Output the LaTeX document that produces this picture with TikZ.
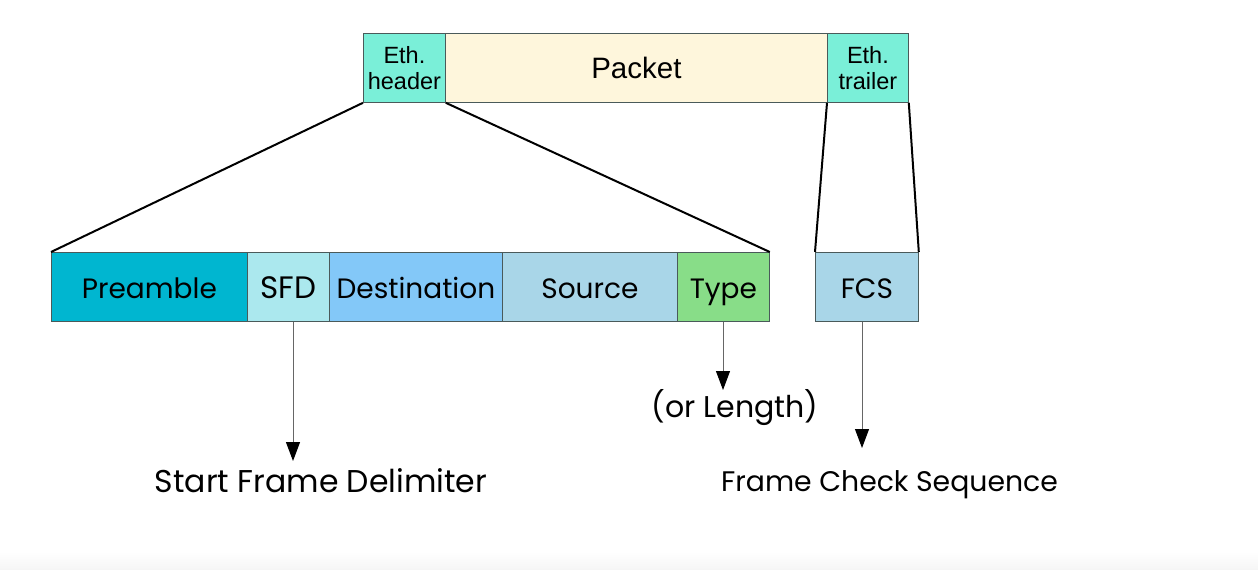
\documentclass[tikz,border=0pt]{standalone}
\usepackage{fontspec}
\setmainfont{Liberation Sans}
\newfontfamily\handfont{Poppins}
\usetikzlibrary{arrows.meta}
\definecolor{ethcol}{HTML}{7AEFD8}
\definecolor{pktcol}{HTML}{FEF6DC}
\definecolor{precol}{HTML}{00B6D0}
\definecolor{sfdcol}{HTML}{ABE8EE}
\definecolor{dstcol}{HTML}{83C8F8}
\definecolor{srccol}{HTML}{A9D6E8}
\definecolor{typcol}{HTML}{88DD88}
\definecolor{edgecol}{HTML}{4A5A5A}
\newcommand{\handsz}[1]{\handfont\fontsize{#1}{#1}\selectfont}
\tikzset{
  topcell/.style={draw=edgecol, line width=0.8pt, minimum height=69pt, inner sep=0pt,
    anchor=north west, align=center, font=\fontsize{23.5}{26}\selectfont},
  field/.style={draw=edgecol, line width=0.8pt, minimum height=69pt, inner sep=0pt,
    text height=26pt, text depth=3pt,
    anchor=north west, font=\handsz{28}},
  fan/.style={black, line width=2pt},
  pointer/.style={draw=gray!80!black, line width=1pt,
    -{Triangle[length=19pt,width=14pt,color=black,fill=black]}},
  caption/.style={inner sep=0pt}
}
\begin{document}
\begin{tikzpicture}[x=1pt,y=-1pt]
  % canvas with a faint grey band at the foot
  \fill[white] (0,0) rectangle (1258,570);
  \shade[top color=white, bottom color=black!4] (0,552) rectangle (1258,570);
  \useasboundingbox (0,0) rectangle (1258,570);

  % encapsulated frame
  \node[topcell, fill=ethcol, minimum width=82pt] (eh) at (363,33) {Eth.\\header};
  \node[topcell, fill=pktcol, minimum width=382pt, font=\fontsize{29.5}{32}\selectfont] (pk) at (445,33) {Packet};
  \node[topcell, fill=ethcol, minimum width=81pt] (et) at (827,33) {Eth.\\trailer};

  % header fields
  \node[field, fill=precol, minimum width=196pt] (pre) at (51,252) {Preamble};
  \node[field, fill=sfdcol, minimum width=82pt, font=\handsz{31}] (sfd) at (247,252) {SFD};
  \node[field, fill=dstcol, minimum width=173pt] (dst) at (329,252) {Destination};
  \node[field, fill=srccol, minimum width=175pt] (src) at (502,252) {Source};
  \node[field, fill=typcol, minimum width=92pt] (typ) at (677,252) {Type};
  % trailer field
  \node[field, fill=srccol, minimum width=103pt] (fcs) at (815,252) {FCS};

  % expansion lines
  \draw[fan] (eh.south west) -- (pre.north west);
  \draw[fan] (eh.south east) -- (typ.north east);
  \draw[fan] (et.south west) -- (fcs.north west);
  \draw[fan] (et.south east) -- (fcs.north east);

  % explanations
  \node[caption, font=\handsz{31.5}] (sfdtxt) at (321,481) {Start Frame Delimiter};
  \node[caption, font=\handsz{30}] (typtxt) at (735,408) {(or Length)};
  \node[caption, font=\handsz{28.3}] (fcstxt) at (889.5,485) {Frame Check Sequence};
  \coordinate (sfdtip) at (293,461);
  \coordinate (typtip) at (723,390);
  \coordinate (fcstip) at (862,448);
  \draw[pointer] (sfd.south -| sfdtip) -- (sfdtip);
  \draw[pointer] (typ.south -| typtip) -- (typtip);
  \draw[pointer] (fcs.south -| fcstip) -- (fcstip);
\end{tikzpicture}
\end{document}
